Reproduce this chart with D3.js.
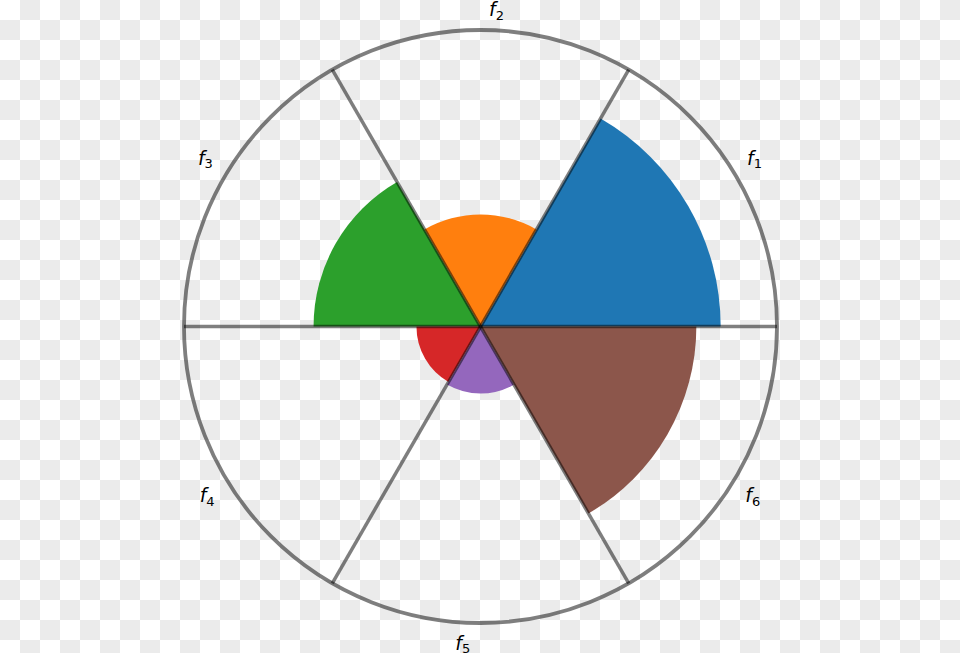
<!DOCTYPE html>
<html>
<head>
<meta charset="utf-8">
<script src="https://cdn.jsdelivr.net/npm/d3@7"></script>
<style>
  html, body { margin: 0; padding: 0; overflow: hidden; }
</style>
</head>
<body>
<script>
var width = 960;
var height = 653;

// one sector per feature, 60 degrees wide, counter-clockwise from east
var labels = ["1", "2", "3", "4", "5", "6"];
var startAngles = [0, 60, 120, 180, 240, 300];
var values = [0.81, 0.378, 0.563, 0.216, 0.226, 0.728];
var colors = ["#1f77b4", "#ff7f0e", "#2ca02c", "#d62728", "#9467bd", "#8c564b"];
// where the labels sit (degrees / radius in axis units)
var labelAngles = [31.4, 87.1, 148.7, 211.9, 266.8, 328];
var labelRadii = [1.083, 1.068, 1.086, 1.086, 1.072, 1.083];
var spokeAngles = [0, 60, 120, 180, 240, 300];

var cx = 480.5, cy = 326.5;
var R = 296.5;

var svg = d3.select("body").append("svg")
    .attr("width", width)
    .attr("height", height);

// transparent-background checkerboard
var defs = svg.append("defs");
var pat = defs.append("pattern")
    .attr("id", "checker")
    .attr("width", 40).attr("height", 40)
    .attr("patternUnits", "userSpaceOnUse");
pat.append("rect").attr("width", 40).attr("height", 40).attr("fill", "#ffffff");
pat.append("rect").attr("x", 20).attr("y", 0).attr("width", 20).attr("height", 20).attr("fill", "#ebebeb");
pat.append("rect").attr("x", 0).attr("y", 20).attr("width", 20).attr("height", 20).attr("fill", "#ebebeb");
svg.append("rect").attr("width", width).attr("height", height).attr("fill", "url(#checker)");

var g = svg.append("g")
    .attr("transform", "translate(" + cx + "," + cy + ")");

var r = d3.scaleLinear().domain([0, 1]).range([0, R]);

// convert math angle (deg, ccw from east) to d3 angle (rad, cw from north)
function toD3(deg) { return (90 - deg) * Math.PI / 180; }

var arc = d3.arc()
    .innerRadius(0)
    .outerRadius(function(d) { return r(d.value); })
    .startAngle(function(d) { return toD3(d.start + 60); })
    .endAngle(function(d) { return toD3(d.start); });

var data = values.map(function(v, i) {
    return {value: v, start: startAngles[i], color: colors[i]};
});

g.selectAll(".bar")
    .data(data)
    .enter().append("path")
        .attr("class", "bar")
        .attr("d", arc)
        .attr("fill", function(d) { return d.color; });

// grid: outer circle and spokes
g.append("circle")
    .attr("r", r(1))
    .attr("fill", "none")
    .attr("stroke", "#000")
    .attr("stroke-opacity", 0.5)
    .attr("stroke-width", 3.8);

g.selectAll(".spoke")
    .data(spokeAngles)
    .enter().append("line")
        .attr("class", "spoke")
        .attr("x1", 0).attr("y1", 0)
        .attr("x2", function(d) { return r(1) * Math.cos(d * Math.PI / 180); })
        .attr("y2", function(d) { return -r(1) * Math.sin(d * Math.PI / 180); })
        .attr("stroke", "#000")
        .attr("stroke-opacity", 0.5)
        .attr("stroke-width", 3.5);

// labels f_i
var lab = g.selectAll(".label")
    .data(labels)
    .enter().append("text")
        .attr("class", "label")
        .attr("x", function(d, i) { return r(labelRadii[i]) * Math.cos(labelAngles[i] * Math.PI / 180); })
        .attr("y", function(d, i) { return -r(labelRadii[i]) * Math.sin(labelAngles[i] * Math.PI / 180); })
        .attr("dy", "0.36em")
        .attr("text-anchor", "middle")
        .attr("font-family", "DejaVu Sans")
        .attr("fill", "#000");

lab.append("tspan")
    .attr("font-style", "italic")
    .attr("font-size", 19)
    .text("f");
lab.append("tspan")
    .attr("font-size", 13)
    .attr("dy", 3.5)
    .text(function(d) { return d; });
</script>
</body>
</html>
